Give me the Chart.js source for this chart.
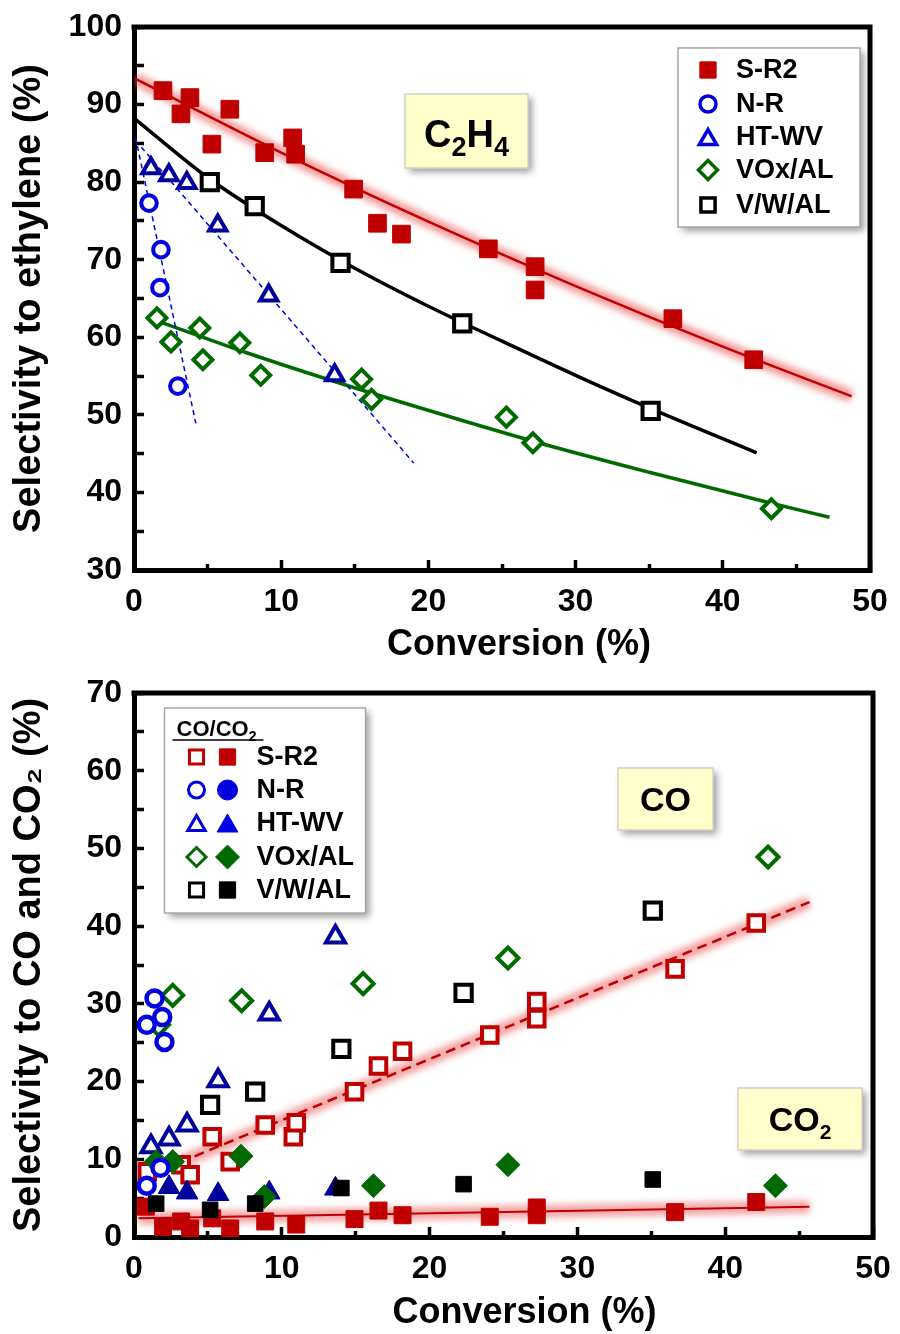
<!DOCTYPE html>
<html><head><meta charset="utf-8">
<script src="https://cdn.jsdelivr.net/npm/chart.js@4.4.0/dist/chart.umd.min.js"></script>
<style>
html,body{margin:0;padding:0;background:#fff;overflow:hidden;}
#wrap{position:relative;width:900px;height:1334px;}
.c{position:absolute;left:0;width:900px;height:667px;}
</style></head><body>
<div id="wrap">
<div class="c" style="top:0"><canvas id="topChart"></canvas></div>
<div class="c" style="top:667px"><canvas id="botChart"></canvas></div>
</div>
<script>
// ================= DATA =================
const seriesNames = ['S-R2', 'N-R', 'HT-WV', 'VOx/AL', 'V/W/AL'];
const xTickLabels = [0, 10, 20, 30, 40, 50];
const yTopTickLabels = [30, 40, 50, 60, 70, 80, 90, 100];
const yBotTickLabels = [0, 10, 20, 30, 40, 50, 60, 70];

// --- Top panel: selectivity to ethylene (%) vs conversion (%)
const srConv  = [1.97, 3.19, 3.80, 5.29, 6.51, 8.88, 10.78, 10.98, 14.92, 16.54, 18.17, 24.07, 27.25, 27.25, 36.61, 42.10];
const srC2H4  = [91.8, 88.8, 90.9, 84.9, 89.4, 83.8, 85.7, 83.6, 79.1, 74.7, 73.3, 71.4, 69.1, 66.1, 62.4, 57.1];
const nrConv  = [1.02, 1.76, 1.83, 2.98];
const nrC2H4  = [77.3, 66.4, 71.3, 53.7];
const htConv  = [1.15, 2.37, 3.59, 5.69, 9.15, 13.63];
const htC2H4  = [81.8, 80.9, 79.9, 74.4, 65.4, 55.1];
const voxConv = [1.56, 2.51, 4.47, 4.68, 7.19, 8.61, 15.46, 16.14, 25.30, 27.10, 43.30];
const voxC2H4 = [62.5, 59.4, 61.2, 57.1, 59.3, 55.1, 54.6, 52.0, 49.7, 46.4, 37.9];
const vwConv  = [5.15, 8.20, 14.03, 22.30, 35.10];
const vwC2H4  = [80.0, 76.9, 69.6, 61.8, 50.5];

// trend lines
const srFitX  = [0.1, 10, 20, 30, 40, 48.75];
const srFitY  = [93.3, 83.8, 74.9, 66.6, 58.8, 52.4];
const vwFitX  = [0.1, 5, 10, 15, 20, 25, 30, 35, 42.3];
const vwFitY  = [88.1, 80.6, 74.4, 68.9, 64.0, 59.5, 55.1, 50.9, 45.1];
const voxFitX = [1.9, 7.2, 15.3, 23.5, 27.1, 35, 43.3, 47.25];
const voxFitY = [61.9, 58.3, 53.3, 48.6, 46.6, 42.6, 38.6, 36.8];
const nrFitX  = [0.1, 4.2];
const nrFitY  = [85.8, 48.9];
const htFitX  = [0.5, 19.0];
const htFitY  = [84.5, 43.8];

// --- Bottom panel: selectivity to CO (open) and CO2 (filled) vs conversion
const srCOConv   = [0.9, 3.19, 3.80, 5.29, 6.51, 8.88, 10.78, 10.98, 14.92, 16.54, 18.17, 24.07, 27.25, 27.25, 36.61, 42.10];
const srCO       = [8.4, 9.3, 8.0, 12.9, 9.7, 14.4, 12.9, 14.7, 18.7, 22.0, 23.9, 26.0, 30.3, 28.1, 34.5, 40.4];
const srCO2Conv  = [0.8, 1.97, 3.19, 3.80, 5.29, 6.51, 8.88, 10.98, 14.92, 16.54, 18.17, 24.07, 27.25, 27.25, 36.61, 42.10];
const srCO2      = [3.9, 1.3, 2.0, 1.1, 2.4, 1.1, 2.0, 1.6, 2.3, 3.4, 2.8, 2.6, 3.8, 2.8, 3.2, 4.5];
const nrCOConv   = [0.86, 1.39, 1.91, 2.06];
const nrCO       = [27.3, 30.7, 28.3, 25.1];
const nrCO2Conv  = [0.86, 1.79];
const nrCO2      = [6.6, 8.9];
const htCOConv   = [1.15, 2.37, 3.59, 5.69, 9.15, 13.63];
const htCO       = [11.6, 12.6, 14.4, 20.1, 28.7, 38.6];
const htCO2Conv  = [2.37, 3.59, 5.69, 9.15, 13.63];
const htCO2      = [6.4, 5.7, 5.5, 5.7, 6.2];
const voxCOConv  = [1.66, 2.62, 7.28, 15.50, 25.30, 42.90];
const voxCO      = [27.3, 31.1, 30.4, 32.6, 35.9, 48.9];
const voxCO2Conv = [1.50, 2.62, 7.24, 8.82, 16.20, 25.30, 43.40];
const voxCO2     = [9.7, 9.7, 10.4, 5.2, 6.6, 9.3, 6.6];
const vwCOConv   = [5.15, 8.20, 14.03, 22.30, 35.10];
const vwCO       = [17.0, 18.7, 24.2, 31.4, 42.0];
const vwCO2Conv  = [1.50, 5.15, 8.20, 14.03, 22.30, 35.10];
const vwCO2      = [4.3, 3.5, 4.3, 6.3, 6.8, 7.4];
const coFitX  = [3.1, 45.7];
const coFitY  = [9.6, 43.1];
const co2FitX = [0.3, 45.7];
const co2FitY = [2.4, 3.9];

// ================= STYLE =================
const RED = '#C00000', BLUE = '#0000E0', NAVY = '#00009C', GREEN = '#006A00', BLACK = '#000000';
const FONT = '"Liberation Sans", Arial, Helvetica, sans-serif';
Chart.defaults.font.family = FONT;
Chart.defaults.font.weight = 'bold';
Chart.defaults.color = '#000';

const pts = (xs, ys) => xs.map((x, i) => ({x: x, y: ys[i]}));

function markerSet(xs, ys, style, color, filled, r, bw, order) {
  return {
    data: pts(xs, ys), showLine: false, pointStyle: style,
    pointRadius: r, pointHoverRadius: r,
    pointBackgroundColor: filled ? color : '#fff', pointBorderColor: color,
    pointBorderWidth: filled ? 1 : bw, order: order
  };
}
function lineSet(xs, ys, color, width, dash, order, extra) {
  return Object.assign({
    data: pts(xs, ys), showLine: true, pointRadius: 0, pointHoverRadius: 0,
    borderColor: color, borderWidth: width, borderDash: dash || [], fill: false,
    cubicInterpolationMode: 'monotone', order: order
  }, extra || {});
}

// --- plugins
const glowPlugin = {
  id: 'glow',
  beforeDatasetDraw(chart, args) {
    const ds = chart.data.datasets[args.index];
    if (ds.glow) { chart.ctx.save(); chart.ctx.filter = 'blur(' + ds.glow + 'px)'; }
  },
  afterDatasetDraw(chart, args) {
    const ds = chart.data.datasets[args.index];
    if (ds.glow) chart.ctx.restore();
  }
};

function drawMarker(ctx, style, x, y, r, color, filled, lw) {
  ctx.save();
  ctx.beginPath();
  if (style === 'rect') { const s = r * Math.SQRT1_2; ctx.rect(x - s, y - s, 2 * s, 2 * s); }
  else if (style === 'circle') { ctx.arc(x, y, r, 0, Math.PI * 2); }
  else if (style === 'triangle') {
    const yc = y + r / 4;
    for (let k = 0; k < 3; k++) {
      const a = k * 2 * Math.PI / 3;
      const px = x + Math.sin(a) * r, py = yc - Math.cos(a) * r;
      if (k === 0) ctx.moveTo(px, py); else ctx.lineTo(px, py);
    }
    ctx.closePath();
  } else if (style === 'rectRot') {
    ctx.moveTo(x - r, y); ctx.lineTo(x, y - r); ctx.lineTo(x + r, y); ctx.lineTo(x, y + r); ctx.closePath();
  }
  ctx.fillStyle = filled ? color : '#fff';
  ctx.fill();
  ctx.lineWidth = filled ? 1 : lw;
  ctx.strokeStyle = color;
  ctx.stroke();
  ctx.restore();
}

function shadowBox(ctx, x, y, w, h, fill, stroke) {
  ctx.save();
  ctx.shadowColor = 'rgba(0,0,0,0.38)';
  ctx.shadowBlur = 7; ctx.shadowOffsetX = 4; ctx.shadowOffsetY = 4;
  ctx.fillStyle = fill; ctx.fillRect(x, y, w, h);
  ctx.restore();
  ctx.save();
  ctx.strokeStyle = stroke; ctx.lineWidth = 1.5;
  ctx.strokeRect(x, y, w, h);
  ctx.restore();
}

function drawParts(ctx, parts, cx, baseY) {
  let total = 0;
  parts.forEach(p => { ctx.font = 'bold ' + p[1] + 'px ' + FONT; total += ctx.measureText(p[0]).width; });
  let x = cx - total / 2;
  ctx.textAlign = 'left'; ctx.textBaseline = 'alphabetic'; ctx.fillStyle = '#000';
  parts.forEach(p => {
    ctx.font = 'bold ' + p[1] + 'px ' + FONT;
    ctx.fillText(p[0], x, baseY + p[2]);
    x += ctx.measureText(p[0]).width;
  });
}

const decoPlugin = {
  id: 'deco',
  afterDatasetsDraw(chart, args, o) {
    const ctx = chart.ctx, a = chart.chartArea;
    // top & right frame
    ctx.save();
    ctx.strokeStyle = '#000'; ctx.lineWidth = o.frame; ctx.lineCap = 'square';
    ctx.beginPath(); ctx.moveTo(a.left, a.top); ctx.lineTo(a.right, a.top); ctx.lineTo(a.right, a.bottom); ctx.stroke();
    ctx.restore();
    // x-axis title (offset to the right, as in the original figure)
    if (o.xTitle) {
      ctx.save();
      ctx.font = 'bold ' + o.xTitle.size + 'px ' + FONT;
      ctx.fillStyle = '#000'; ctx.textAlign = 'center'; ctx.textBaseline = 'middle';
      ctx.fillText(o.xTitle.text, (a.left + a.right) / 2 + o.xTitle.dx, a.bottom + o.xTitle.dy);
      ctx.restore();
    }
    // label boxes
    (o.boxes || []).forEach(b => {
      const x = a.left + b.x, y = a.top + b.y;
      shadowBox(ctx, x, y, b.w, b.h, '#FFFFCC', '#D4D4C4');
      ctx.save();
      drawParts(ctx, b.parts, x + b.w / 2, y + b.base);
      ctx.restore();
    });
    // legend
    const L = o.legend;
    if (L) {
      const x = a.left + L.x, y = a.top + L.y;
      shadowBox(ctx, x, y, L.w, L.h, '#FFFFFF', '#A8A8A8');
      ctx.save();
      if (L.title) {
        drawParts(ctx, L.title.parts, x + L.title.cx, y + L.title.base);
        ctx.strokeStyle = '#000'; ctx.lineWidth = 1.5;
        ctx.beginPath(); ctx.moveTo(x + L.title.ux1, y + L.title.uy); ctx.lineTo(x + L.title.ux2, y + L.title.uy); ctx.stroke();
      }
      L.rows.forEach((row, i) => {
        const ry = y + L.rowY[i];
        row.markers.forEach(m => drawMarker(ctx, m.style, x + m.x, ry, m.r, m.color, m.filled, m.lw));
        ctx.font = 'bold ' + L.fontSize + 'px ' + FONT;
        ctx.fillStyle = '#000'; ctx.textAlign = 'left'; ctx.textBaseline = 'middle';
        ctx.fillText(row.text, x + L.textX, ry + 1);
      });
      ctx.restore();
    }
  }
};

function zeroPad(s) { s.paddingTop = 0; s.paddingBottom = 0; s.paddingLeft = 0; s.paddingRight = 0; }

function axisX() {
  return {
    type: 'linear', min: 0, max: 50,
    ticks: { stepSize: 5, autoSkip: false, maxRotation: 0, padding: 23, font: {size: 32, weight: 'bold'},
             callback: v => xTickLabels.includes(v) ? String(v) : '' },
    grid: { drawOnChartArea: false, drawTicks: true, tickLength: -10, tickWidth: 3.5, tickColor: '#000',
            tickBorderDash: c => (c.tick && !xTickLabels.includes(c.tick.value)) ? [9, 100] : [] },
    border: { display: true, width: 5, color: '#000' },
    title: { display: false },
    afterFit: s => { s.height = 97; zeroPad(s); }
  };
}
function axisY(min, max, labels, titleText) {
  return {
    type: 'linear', min: min, max: max,
    ticks: { stepSize: 5, autoSkip: false, padding: 22, font: {size: 32, weight: 'bold'},
             callback: v => labels.includes(v) ? String(v) : '' },
    grid: { drawOnChartArea: false, drawTicks: true, tickLength: -10, tickWidth: 3.5, tickColor: '#000' },
    border: { display: true, width: 5, color: '#000' },
    title: { display: true, text: titleText, font: {size: 38, weight: 'bold'}, padding: {top: 7, bottom: 0} },
    afterFit: s => { s.width = 134; zeroPad(s); }
  };
}

// ================= TOP CHART =================
const topDatasets = [
  lineSet(srFitX, srFitY, 'rgba(236,80,80,0.55)', 13, [], 30, {glow: 3}),
  lineSet(srFitX, srFitY, RED, 2.5, [], 29),
  lineSet(vwFitX, vwFitY, BLACK, 3.5, [], 28),
  lineSet(voxFitX, voxFitY, GREEN, 3.5, [], 27),
  lineSet(nrFitX, nrFitY, BLUE, 1.5, [5, 4], 26),
  lineSet(htFitX, htFitY, BLUE, 1.5, [5, 4], 25),
  Object.assign(markerSet(voxConv, voxC2H4, 'rectRot', GREEN, false, 9.5, 4, 5), {label: seriesNames[3]}),
  Object.assign(markerSet(vwConv, vwC2H4, 'rect', BLACK, false, 11.5, 4, 4), {label: seriesNames[4]}),
  Object.assign(markerSet(htConv, htC2H4, 'triangle', NAVY, false, 10, 4, 3), {label: seriesNames[2]}),
  Object.assign(markerSet(nrConv, nrC2H4, 'circle', BLUE, false, 7.8, 4, 2), {label: seriesNames[1]}),
  Object.assign(markerSet(srConv, srC2H4, 'rect', RED, true, 12.5, 1, 1), {label: seriesNames[0]})
];

new Chart(document.getElementById('topChart'), {
  type: 'scatter',
  data: { datasets: topDatasets },
  options: {
    responsive: true, maintainAspectRatio: false, animation: false, devicePixelRatio: 1, events: [],
    layout: { autoPadding: false, padding: { top: 27, right: 30, bottom: 0, left: 0 } },
    scales: { x: axisX(), y: axisY(30, 100, yTopTickLabels, 'Selectivity to ethylene (%)') },
    plugins: {
      legend: { display: false }, tooltip: { enabled: false },
      deco: {
        frame: 5,
        xTitle: { text: 'Conversion (%)', size: 36, dx: 17, dy: 75 },
        boxes: [{ x: 271, y: 67, w: 123, h: 74, base: 53, parts: [['C', 38, 0], ['2', 27, 9], ['H', 38, 0], ['4', 27, 9]] }],
        legend: {
          x: 544, y: 21, w: 182, h: 179, fontSize: 27, textX: 58,
          rowY: [22, 56, 89, 122, 157],
          rows: [
            { text: seriesNames[0], markers: [{x: 30, style: 'rect', r: 11.5, color: RED, filled: true}] },
            { text: seriesNames[1], markers: [{x: 30, style: 'circle', r: 8, color: BLUE, filled: false, lw: 3.5}] },
            { text: seriesNames[2], markers: [{x: 30, style: 'triangle', r: 10, color: BLUE, filled: false, lw: 3.5}] },
            { text: seriesNames[3], markers: [{x: 30, style: 'rectRot', r: 9.5, color: GREEN, filled: false, lw: 3.5}] },
            { text: seriesNames[4], markers: [{x: 30, style: 'rect', r: 10, color: BLACK, filled: false, lw: 3.5}] }
          ]
        }
      }
    }
  },
  plugins: [glowPlugin, decoPlugin]
});

// ================= BOTTOM CHART =================
const botDatasets = [
  lineSet(coFitX, coFitY, 'rgba(236,80,80,0.5)', 13, [], 30, {glow: 3}),
  lineSet(coFitX, coFitY, RED, 2.5, [10, 6], 29),
  lineSet(co2FitX, co2FitY, 'rgba(236,80,80,0.5)', 13, [], 28, {glow: 3}),
  lineSet(co2FitX, co2FitY, RED, 2, [], 27),
  Object.assign(markerSet(vwCOConv, vwCO, 'rect', BLACK, false, 11.5, 4, 12), {label: seriesNames[4] + ' CO'}),
  Object.assign(markerSet(voxCOConv, voxCO, 'rectRot', GREEN, false, 10.5, 4, 11), {label: seriesNames[3] + ' CO'}),
  Object.assign(markerSet(srCOConv, srCO, 'rect', RED, false, 11, 4, 10), {label: seriesNames[0] + ' CO'}),
  Object.assign(markerSet(srCO2Conv, srCO2, 'rect', RED, true, 12, 1, 9), {label: seriesNames[0] + ' CO2'}),
  Object.assign(markerSet(htCOConv, htCO, 'triangle', NAVY, false, 11, 4, 8), {label: seriesNames[2] + ' CO'}),
  Object.assign(markerSet(htCO2Conv, htCO2, 'triangle', NAVY, true, 12.5, 1, 7), {label: seriesNames[2] + ' CO2'}),
  Object.assign(markerSet(voxCO2Conv, voxCO2, 'rectRot', GREEN, true, 12, 1, 6), {label: seriesNames[3] + ' CO2'}),
  Object.assign(markerSet(vwCO2Conv, vwCO2, 'rect', BLACK, true, 11, 1, 5), {label: seriesNames[4] + ' CO2'}),
  Object.assign(markerSet(nrCOConv, nrCO, 'circle', BLUE, false, 8, 4.5, 2), {label: seriesNames[1] + ' CO'}),
  Object.assign(markerSet(nrCO2Conv, nrCO2, 'circle', BLUE, false, 8, 4.5, 1), {label: seriesNames[1] + ' CO2'})
];

new Chart(document.getElementById('botChart'), {
  type: 'scatter',
  data: { datasets: botDatasets },
  options: {
    responsive: true, maintainAspectRatio: false, animation: false, devicePixelRatio: 1, events: [],
    layout: { autoPadding: false, padding: { top: 26, right: 27, bottom: 0, left: 0 } },
    scales: { x: axisX(), y: axisY(0, 70, yBotTickLabels, 'Selectivity to CO and CO\u2082 (%)') },
    plugins: {
      legend: { display: false }, tooltip: { enabled: false },
      deco: {
        frame: 5,
        xTitle: { text: 'Conversion (%)', size: 36, dx: 21, dy: 76 },
        boxes: [
          { x: 484, y: 75, w: 95, h: 62, base: 43, parts: [['CO', 34, 0]] },
          { x: 604, y: 395, w: 124, h: 62, base: 43, parts: [['CO', 34, 0], ['2', 21, 8]] }
        ],
        legend: {
          x: 30.5, y: 15, w: 201, h: 205, fontSize: 27, textX: 92,
          title: { parts: [['CO/CO', 22, 0], ['2', 14, 5]], cx: 52, base: 28, ux1: 8, ux2: 99, uy: 32 },
          rowY: [49, 82, 115, 149, 182],
          rows: [
            { text: seriesNames[0], markers: [{x: 32, style: 'rect', r: 10, color: RED, filled: false, lw: 3}, {x: 63, style: 'rect', r: 11.5, color: RED, filled: true}] },
            { text: seriesNames[1], markers: [{x: 32, style: 'circle', r: 8, color: BLUE, filled: false, lw: 3}, {x: 63, style: 'circle', r: 10, color: BLUE, filled: true}] },
            { text: seriesNames[2], markers: [{x: 32, style: 'triangle', r: 10, color: BLUE, filled: false, lw: 3}, {x: 63, style: 'triangle', r: 12, color: BLUE, filled: true}] },
            { text: seriesNames[3], markers: [{x: 32, style: 'rectRot', r: 9.5, color: GREEN, filled: false, lw: 3}, {x: 63, style: 'rectRot', r: 12, color: GREEN, filled: true}] },
            { text: seriesNames[4], markers: [{x: 32, style: 'rect', r: 10, color: BLACK, filled: false, lw: 3}, {x: 63, style: 'rect', r: 11.5, color: BLACK, filled: true}] }
          ]
        }
      }
    }
  },
  plugins: [glowPlugin, decoPlugin]
});
</script>
</body></html>
